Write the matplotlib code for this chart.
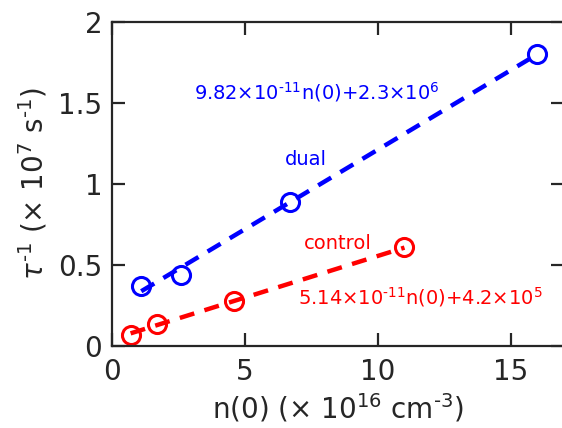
import matplotlib
matplotlib.use("Agg")
import matplotlib.pyplot as plt
import numpy as np

plt.rcParams['font.family'] = ['DejaVu Sans']
plt.rcParams['mathtext.fontset'] = 'dejavusans'

dual_n = [1.1, 2.6, 6.7, 16.0]
dual_rate = [0.37, 0.44, 0.89, 1.80]
control_n = [0.7, 1.7, 4.6, 11.0]
control_rate = [0.07, 0.135, 0.275, 0.61]
dual_fit = (9.82e-11, 2.3e6)
control_fit = (5.14e-11, 4.2e5)
xticks = [0, 5, 10, 15]
yticks = [0, 0.5, 1, 1.5, 2]
yticklabels = ['0', '0.5', '1', '1.5', '2']

fig = plt.figure(figsize=(5.62, 4.28), dpi=100)
ax = fig.add_axes([0.1993, 0.1916, 1.0036 - 0.1993, 0.9486 - 0.1916])

def fit_line(ns, fit):
    x = np.array([min(ns), max(ns)])
    y = (fit[0] * x * 1e16 + fit[1]) / 1e7
    return x, y

for ns, rs, fit, col in [(dual_n, dual_rate, dual_fit, 'blue'),
                         (control_n, control_rate, control_fit, 'red')]:
    ax.plot(ns, rs, 'o', mfc='none', mec=col, mew=2.2, ms=13, clip_on=False)
    fx, fy = fit_line(ns, fit)
    ax.plot(fx, fy, '--', color=col, lw=3.2, dashes=(3.4, 2.4))

ax.text(3.1, 1.57, r'9.82$\times$10$^{\text{-}11}$n(0)+2.3$\times$10$^{6}$', color='blue',
        fontsize=14, va='center', ha='left')
ax.text(6.5, 1.15, 'dual', color='blue', fontsize=14, va='center', ha='left')
ax.text(7.2, 0.63, 'control', color='red', fontsize=14, va='center', ha='left')
ax.text(7.0, 0.30, r'5.14$\times$10$^{\text{-}11}$n(0)+4.2$\times$10$^{5}$', color='red',
        fontsize=14, va='center', ha='left')

ax.set_xlim(0, 17)
ax.set_ylim(0, 2)
ax.set_xticks(xticks)
ax.set_yticks(yticks)
ax.set_yticklabels(yticklabels)
dark = '#262626'
for s in ax.spines.values():
    s.set_color(dark)
    s.set_linewidth(1.6)
ax.tick_params(direction='in', length=9.5, width=1.6, colors=dark, labelsize=20,
               top=True, right=True)
ax.tick_params(axis='x', pad=9)
ax.tick_params(axis='y', pad=7)
ax.set_xlabel(r'n(0) ($\times$ 10$^{16}$ cm$^{\text{-}3}$)', fontsize=20, color=dark, labelpad=4)
ax.set_ylabel(r'$\tau^{\text{-}1}$ ($\times$ 10$^{7}$ s$^{\text{-}1}$)', fontsize=20, color=dark, labelpad=6)

fig.savefig('out.png', dpi=100)
